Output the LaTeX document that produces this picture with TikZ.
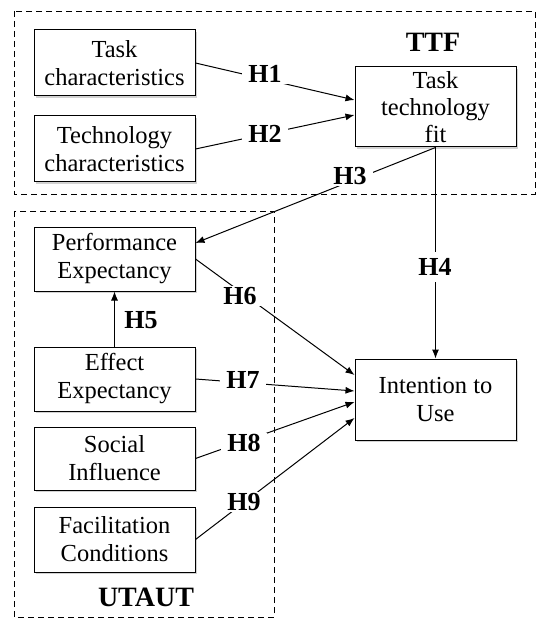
\documentclass[tikz,border=0pt]{standalone}
\usepackage{fontspec}
\setmainfont{Liberation Serif}
\usetikzlibrary{arrows.meta,calc}
\begin{document}
\begin{tikzpicture}[x=1pt,y=-1pt,
  box/.style={draw,fill=white,line width=1pt,align=center,inner sep=0pt,font=\fontsize{24.5}{28}\selectfont,minimum width=161pt,
    preaction={fill=gray!35,transform canvas={xshift=2pt,yshift=-2pt}}},
  hyp/.style={font=\bfseries\fontsize{26}{28}\selectfont,fill=white,inner xsep=6pt,inner ysep=1pt},
  grplab/.style={font=\bfseries\fontsize{28}{30}\selectfont,inner sep=0pt},
  grp/.style={draw,line width=0.9pt,dash pattern=on 6pt off 4pt},
  arr/.style={line width=1pt,-{Latex[length=9pt,width=7pt]}},
  ln/.style={line width=1pt}]
\useasboundingbox[fill=white] (0,0) rectangle (537,620);
% groups
\draw[grp] (14,11) rectangle (535,194);
\draw[grp] (14,211) rectangle (274,617);
\node[grplab] (ttflab) at (433,42) {TTF};
\node[grplab] (utlab) at (146,597) {UTAUT};
% boxes
\node[box,minimum height=66pt] (tc) at (114.5,63) {Task\\characteristics};
\node[box,minimum height=66pt] (tec) at (114.5,149) {Technology\\characteristics};
\node[box,minimum height=80pt,font=\fontsize{24.5}{27}\selectfont] (ttf) at (435.5,107) {Task\\technology\\fit};
\node[box,minimum height=64pt] (pe) at (114.5,259) {Performance\\Expectancy};
\node[box,minimum height=64pt] (ee) at (114.5,379) {Effect\\Expectancy};
\node[box,minimum height=63pt] (si) at (114.5,458.5) {Social\\Influence};
\node[box,minimum height=65pt] (fc) at (114.5,539.5) {Facilitation\\Conditions};
\node[box,minimum height=81pt] (itu) at (435.5,399.5) {Intention to\\Use};
% connectors
\draw[arr] (tc.east) -- ([yshift=7pt]ttf.west);
\draw[arr] (tec.east) -- ([yshift=-8pt]ttf.west);
\draw[arr] (ttf.south) -- ([yshift=16pt]pe.east);
\draw[arr] (ttf.south) -- (itu.north);
\draw[arr] (ee.north) -- (pe.south);
\draw[arr] (pe.east) -- ([yshift=24.5pt]itu.west);
\draw[arr] (ee.east) -- ([yshift=8.5pt]itu.west);
\draw[arr] (si.east) -- ([yshift=-2.5pt]itu.west);
\draw[arr] (fc.east) -- ([yshift=-18.5pt]itu.west);
% labels
\node[hyp] (h1) at (265,74) {H1};
\node[hyp] (h2) at (265,134) {H2};
\node[hyp] (h3) at (350,176) {H3};
\node[hyp,inner ysep=6pt] (h4) at (435,267) {H4};
\node[hyp,fill=none] (h5) at (141,320) {H5};
\node[hyp] (h6) at (240,296) {H6};
\node[hyp] (h7) at (243,380) {H7};
\node[hyp] (h8) at (244,443) {H8};
\node[hyp] (h9) at (244,502) {H9};
\end{tikzpicture}
\end{document}
